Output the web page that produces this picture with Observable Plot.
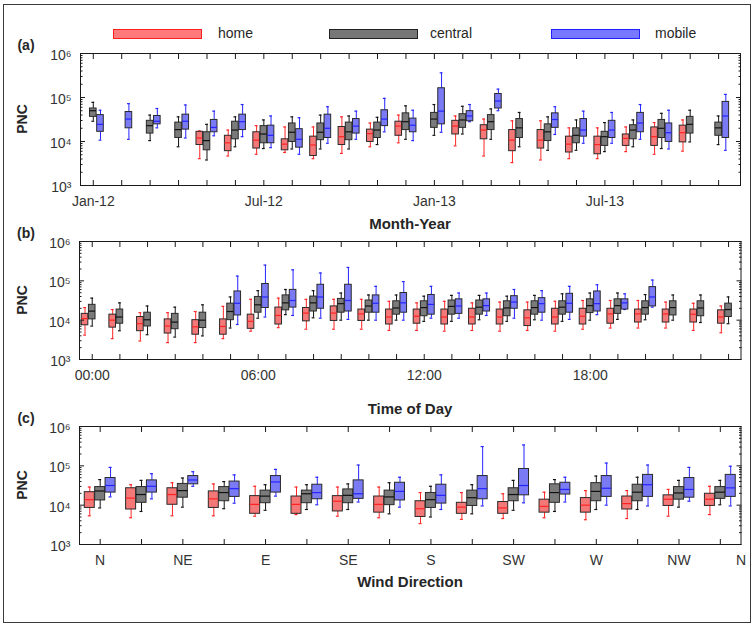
<!DOCTYPE html>
<html><head><meta charset="utf-8">
<script src="https://cdn.jsdelivr.net/npm/d3@7"></script>
<script src="https://cdn.jsdelivr.net/npm/@observablehq/plot@0.6"></script>
<style>
body{margin:0;background:#fff;font-family:"Liberation Sans",Arial,sans-serif;}
#fig{position:relative;width:754px;height:626px;overflow:hidden;background:#fff}
#border{position:absolute;left:3px;top:4px;width:748px;height:619px;border:1.5px solid #3a3a3a;box-sizing:border-box}
.t{position:absolute;transform:translate(-50%,-50%);white-space:nowrap;color:#262626}
.b{font-weight:bold}
.sw{position:absolute;height:10px;width:89px;box-sizing:border-box;border:1.3px solid}
.lt{position:absolute;font-size:14px;color:#262626;transform:translateY(-50%)}
.p{position:absolute;left:0}
</style></head><body>
<div id="fig">
<div id="border"></div>
</div>
<script>
// ---------- categories / tick labels ----------
const monthCats = ["Jan-12","Feb-12","Mar-12","Apr-12","May-12","Jun-12","Jul-12","Aug-12","Sep-12","Oct-12","Nov-12","Dec-12",
  "Jan-13","Feb-13","Mar-13","Apr-13","May-13","Jun-13","Jul-13","Aug-13","Sep-13","Oct-13","Nov-13"];
const monthTickLabels = ["Jan-12","Jul-12","Jan-13","Jul-13"];
const hourCats = ["00:00","01:00","02:00","03:00","04:00","05:00","06:00","07:00","08:00","09:00","10:00","11:00",
  "12:00","13:00","14:00","15:00","16:00","17:00","18:00","19:00","20:00","21:00","22:00","23:00"];
const hourTickLabels = ["00:00","06:00","12:00","18:00"];
const windCats = [0,22.5,45,67.5,90,112.5,135,157.5,180,202.5,225,247.5,270,292.5,315,337.5]; // degrees
const windTickLabels = ["N","NE","E","SE","S","SW","W","NW","N"];
const seriesNames = ["home","central","mobile"];

// ---------- values: log10(PNC) as [lower whisker, Q1, median, Q3, upper whisker] ----------
const monthHome = [null,null,null,null,
  [3.61,3.92,4.08,4.22,4.24],[3.67,3.78,3.97,4.13,4.26],[3.71,3.84,4.03,4.21,4.36],[3.75,3.80,3.94,4.05,4.33],
  [3.61,3.67,3.92,4.11,4.33],[3.73,3.92,4.11,4.33,4.56],[3.88,3.99,4.18,4.27,4.42],[3.97,4.13,4.35,4.45,4.60],
  null,[3.90,4.16,4.35,4.47,4.58],[3.67,4.05,4.26,4.37,4.51],[3.52,3.78,4.03,4.26,4.47],[3.58,3.84,4.03,4.26,4.47],
  [3.61,3.75,3.94,4.11,4.31],[3.61,3.71,3.93,4.11,4.31],[3.77,3.90,4.07,4.16,4.33],[3.71,3.90,4.11,4.32,4.43],
  [3.78,3.98,4.20,4.36,4.49],null];
const monthCentral = [[4.46,4.56,4.70,4.75,4.89],null,[4.02,4.18,4.36,4.47,4.60],[3.88,4.08,4.27,4.43,4.56],
  [3.58,3.80,4.02,4.21,4.39],[3.88,4.05,4.26,4.45,4.56],[3.84,3.96,4.17,4.35,4.49],[3.83,3.99,4.21,4.41,4.56],
  [3.83,4.03,4.21,4.41,4.60],[3.83,4.03,4.22,4.43,4.58],[3.93,4.08,4.26,4.43,4.55],[4.05,4.26,4.45,4.64,4.81],
  [4.14,4.31,4.51,4.65,4.84],[4.17,4.31,4.49,4.62,4.80],[4.05,4.26,4.45,4.60,4.74],[3.88,4.08,4.31,4.51,4.66],
  [3.80,4.01,4.22,4.39,4.56],[3.80,3.96,4.14,4.30,4.49],[3.77,3.90,4.11,4.22,4.43],[3.88,4.05,4.26,4.37,4.49],
  [3.84,4.08,4.30,4.49,4.64],[3.99,4.18,4.39,4.56,4.71],[3.93,4.13,4.31,4.43,4.58]];
const monthMobile = [[4.03,4.22,4.39,4.60,4.71],[4.05,4.30,4.51,4.67,4.86],[4.31,4.39,4.46,4.58,4.75],[4.08,4.27,4.46,4.61,4.83],
  [4.13,4.21,4.32,4.49,4.69],[4.11,4.26,4.45,4.61,4.84],[3.86,3.96,4.14,4.36,4.58],[3.71,3.86,4.05,4.28,4.54],
  [3.96,4.08,4.30,4.61,4.79],[4.05,4.18,4.35,4.51,4.69],[4.22,4.35,4.51,4.71,4.98],[4.02,4.21,4.37,4.52,4.71],
  [4.21,4.39,4.69,5.21,5.56],[4.45,4.46,4.58,4.69,4.84],[4.70,4.75,4.92,5.08,5.19],null,
  [4.16,4.31,4.50,4.64,4.79],[3.96,4.11,4.26,4.51,4.69],[3.96,4.08,4.26,4.47,4.66],[4.05,4.21,4.42,4.65,4.84],
  [3.83,3.99,4.20,4.41,4.71],null,[3.80,4.08,4.58,4.90,5.07]];

const hourHome = [[3.62,3.87,4.04,4.16,4.32],[3.53,3.81,4.00,4.14,4.27],[3.47,3.72,3.91,4.08,4.19],[3.43,3.66,3.85,4.02,4.19],
  [3.43,3.63,3.83,4.00,4.22],[3.53,3.63,3.84,4.02,4.35],[3.72,3.78,3.97,4.14,4.53],[3.81,3.89,4.12,4.32,4.56],
  [3.77,3.97,4.18,4.31,4.53],[3.77,3.98,4.18,4.35,4.53],[3.77,3.98,4.16,4.27,4.53],[3.74,3.89,4.08,4.27,4.48],
  [3.74,3.91,4.10,4.27,4.44],[3.72,3.89,4.08,4.27,4.48],[3.74,3.89,4.08,4.29,4.44],[3.72,3.89,4.08,4.27,4.46],
  [3.74,3.85,4.06,4.25,4.46],[3.72,3.89,4.08,4.29,4.48],[3.77,3.89,4.10,4.29,4.50],[3.80,3.91,4.16,4.29,4.50],
  [3.80,3.94,4.16,4.27,4.50],[3.80,3.94,4.16,4.27,4.46],[3.74,3.94,4.15,4.27,4.43],[3.68,3.91,4.08,4.25,4.36]];
const hourCentral = [[3.85,4.02,4.23,4.39,4.56],[3.73,3.91,4.08,4.27,4.44],[3.63,3.84,4.01,4.19,4.36],[3.57,3.77,3.95,4.16,4.33],
  [3.60,3.80,4.00,4.19,4.39],[3.80,4.00,4.22,4.42,4.59],[4.05,4.19,4.39,4.59,4.75],[4.14,4.25,4.44,4.63,4.78],
  [4.06,4.22,4.44,4.60,4.75],[4.00,4.19,4.42,4.54,4.69],[4.00,4.19,4.36,4.50,4.64],[4.00,4.14,4.31,4.48,4.64],
  [3.97,4.10,4.32,4.48,4.61],[3.97,4.14,4.35,4.50,4.63],[4.01,4.14,4.33,4.50,4.63],[3.97,4.10,4.31,4.48,4.61],
  [4.01,4.14,4.32,4.48,4.63],[3.97,4.14,4.33,4.48,4.67],[4.00,4.18,4.37,4.53,4.69],[4.02,4.16,4.37,4.53,4.69],
  [4.01,4.14,4.32,4.48,4.65],[4.00,4.12,4.32,4.48,4.64],[3.94,4.10,4.31,4.48,4.64],[3.91,4.08,4.27,4.42,4.59]];
const hourMobile = [null,null,null,null,null,
  [3.89,4.12,4.43,4.73,5.12],[4.08,4.31,4.59,4.92,5.40],[4.12,4.32,4.50,4.77,5.28],[4.05,4.29,4.59,4.90,5.20],
  [4.02,4.22,4.50,4.90,5.34],[4.00,4.19,4.43,4.63,4.86],[4.00,4.19,4.44,4.69,4.98],[4.05,4.14,4.40,4.64,4.86],
  [4.05,4.16,4.36,4.53,4.69],[4.12,4.22,4.37,4.53,4.69],[4.05,4.29,4.46,4.61,4.78],[4.00,4.19,4.42,4.56,4.75],
  [4.02,4.19,4.43,4.67,4.86],[4.14,4.22,4.42,4.73,4.90],[4.27,4.27,4.44,4.53,4.67],[4.33,4.35,4.59,4.84,5.02],
  null,null,null];

const windHome = [[3.73,3.93,4.14,4.33,4.46],[3.68,3.89,4.18,4.43,4.52],[3.73,4.01,4.27,4.43,4.57],[3.73,3.93,4.16,4.35,4.54],
  [3.72,3.78,4.02,4.23,4.48],[3.76,3.78,4.02,4.22,4.46],[3.72,3.84,4.10,4.23,4.46],[3.68,3.81,4.02,4.22,4.46],
  [3.53,3.70,3.91,4.10,4.32],[3.64,3.78,3.95,4.06,4.32],[3.66,3.78,3.93,4.08,4.29],[3.68,3.81,3.97,4.14,4.33],
  [3.63,3.81,4.00,4.18,4.37],[3.66,3.89,4.04,4.22,4.37],[3.72,3.98,4.15,4.25,4.40],[3.76,3.98,4.15,4.29,4.48]];
const windCentral = [[3.93,4.12,4.36,4.46,4.65],[3.84,4.06,4.27,4.46,4.63],[3.95,4.19,4.37,4.54,4.69],[3.91,4.10,4.32,4.46,4.60],
  [3.87,4.05,4.23,4.37,4.52],[3.89,4.05,4.29,4.37,4.52],[3.89,4.05,4.25,4.40,4.54],[3.78,4.00,4.21,4.37,4.57],
  [3.70,3.93,4.14,4.31,4.48],[3.78,3.98,4.19,4.37,4.52],[3.87,4.10,4.27,4.43,4.63],[3.84,4.06,4.32,4.53,4.65],
  [3.89,4.10,4.35,4.56,4.74],[3.89,4.10,4.33,4.52,4.71],[3.95,4.14,4.31,4.46,4.63],[4.01,4.16,4.33,4.46,4.63]];
const windMobile = [[4.21,4.32,4.50,4.69,4.96],[4.16,4.32,4.48,4.63,4.80],[4.48,4.53,4.64,4.74,4.85],[4.05,4.21,4.42,4.60,4.77],
  [4.23,4.32,4.59,4.74,4.91],[4.01,4.15,4.32,4.52,4.71],[4.08,4.16,4.29,4.63,5.02],[3.95,4.12,4.35,4.57,4.71],
  [3.89,4.04,4.25,4.52,4.77],[3.98,4.15,4.42,4.74,5.49],[4.06,4.25,4.50,4.92,5.53],[4.08,4.27,4.40,4.57,4.71],
  [4.00,4.21,4.43,4.74,5.07],[3.98,4.21,4.52,4.77,5.02],[4.10,4.19,4.40,4.69,4.96],[3.98,4.21,4.44,4.77,4.99]];

// ---------- styles ----------
const boxFill = {home:"#f47878", central:"#7b7b7b", mobile:"#7a7af4"};
const lineCol = {home:"#ff2424", central:"#111111", mobile:"#2424ff"};
const legendFill = {home:"#ff7b7b", central:"#777777", mobile:"#7878ff"};
const legendStroke = {home:"#ff2020", central:"#222222", mobile:"#2020ff"};
const seriesSide = {home:-1, central:0, mobile:1};

const supDigits = {"3":"³","4":"⁴","5":"⁵","6":"⁶"};
const supFmt = d => "10" + supDigits[String(Math.round(Math.log10(d)))];
const majorY = [1e3,1e4,1e5,1e6];
const minorY = [];
for (let e = 3; e < 6; e++) for (let m = 2; m <= 9; m++) minorY.push(m * Math.pow(10, e));

const fig = document.getElementById("fig");

function addText(txt, x, y, cls, size, rotate) {
  const d = document.createElement("div");
  d.className = "t " + (cls || "");
  d.style.left = x + "px"; d.style.top = y + "px";
  d.style.fontSize = size + "px";
  if (rotate) d.style.transform = "translate(-50%,-50%) rotate(-90deg)";
  d.textContent = txt;
  fig.appendChild(d);
}

function panel(cfg) {
  const W = 754;
  const plotW = W - cfg.ml - cfg.mr;
  const upx = (cfg.domain[1] - cfg.domain[0]) / plotW; // data units per pixel
  const off = cfg.offPx * upx, hw = cfg.hwPx * upx, cw = cfg.capPx * upx;
  const marks = [];
  seriesNames.forEach((s, si) => {
    const vals = cfg.values[si];
    const rows = [];
    vals.forEach((v, i) => {
      if (!v) return;
      rows.push({x: cfg.pos[i] + seriesSide[s] * off,
        wb: Math.pow(10, v[0]), q1: Math.pow(10, v[1]), med: Math.pow(10, v[2]),
        q3: Math.pow(10, v[3]), wt: Math.pow(10, v[4])});
    });
    marks.push(
      Plot.ruleX(rows, {x: "x", y1: "wb", y2: "wt", stroke: lineCol[s], strokeWidth: 1}),
      Plot.ruleY(rows, {y: "wt", x1: d => d.x - cw, x2: d => d.x + cw, stroke: lineCol[s], strokeWidth: 1.2}),
      Plot.ruleY(rows, {y: "wb", x1: d => d.x - cw, x2: d => d.x + cw, stroke: lineCol[s], strokeWidth: 1.2}),
      Plot.rect(rows, {x1: d => d.x - hw, x2: d => d.x + hw, y1: "q1", y2: "q3", fill: boxFill[s], stroke: "#2a2a2a", strokeWidth: 1}),
      Plot.ruleY(rows, {y: "med", x1: d => d.x - hw, x2: d => d.x + hw, stroke: lineCol[s], strokeWidth: 1.2})
    );
  });
  const noTxt = () => "";
  const axes = [
    Plot.axisY(majorY, {anchor: "left", tickSize: 0, tickPadding: 9, tickFormat: supFmt, fontSize: 14, fill: "#333", dy: 2, label: null}),
    Plot.axisY(majorY, {anchor: "left", tickSize: -5, tickFormat: noTxt, label: null}),
    Plot.axisY(minorY, {anchor: "left", tickSize: -2.5, tickFormat: noTxt, label: null}),
    Plot.axisY(majorY, {anchor: "right", tickSize: -5, tickFormat: noTxt, label: null}),
    Plot.axisY(minorY, {anchor: "right", tickSize: -2.5, tickFormat: noTxt, label: null}),
    Plot.axisX(cfg.tickPos, {anchor: "bottom", tickSize: -5, tickFormat: noTxt, label: null}),
    Plot.axisX(cfg.tickPos, {anchor: "top", tickSize: -5, tickFormat: noTxt, label: null}),
    Plot.axisX(cfg.labelPos, {anchor: "bottom", tickSize: 0, tickPadding: 11, fontSize: 14, fill: "#333",
      tickFormat: (d, i) => cfg.labelText[i], label: null}),
    Plot.frame({stroke: "#1a1a1a", strokeWidth: 1})
  ];
  const svg = Plot.plot({
    width: W, height: cfg.frameH + 13 + 25,
    marginLeft: cfg.ml, marginRight: cfg.mr, marginTop: 13, marginBottom: 25,
    style: {fontFamily: "Liberation Sans, Arial, sans-serif", fontSize: "14px", color: "#1a1a1a", background: "transparent"},
    x: {domain: cfg.domain, label: null},
    y: {type: "log", domain: [1e3, 1e6], label: null},
    marks: [...marks, ...axes]
  });
  svg.classList.add("p");
  svg.style.top = cfg.top + "px";
  svg.style.position = "absolute";
  fig.appendChild(svg);
}

// panel (a): month-year
panel({
  top: 40, frameH: 132, ml: 80, mr: 14, domain: [-0.45, 22.77],
  pos: monthCats.map((_, i) => i),
  values: [monthHome, monthCentral, monthMobile],
  offPx: 7.2, hwPx: 3.3, capPx: 1.4,
  tickPos: monthCats.map((_, i) => i),
  labelPos: monthTickLabels.map(l => monthCats.indexOf(l)), labelText: monthTickLabels
});
// panel (b): time of day
panel({
  top: 228, frameH: 118, ml: 79, mr: 13.5, domain: [-0.46, 23.45],
  pos: hourCats.map((_, i) => i),
  values: [hourHome, hourCentral, hourMobile],
  offPx: 7.2, hwPx: 3.3, capPx: 1.4,
  tickPos: hourCats.map((_, i) => i),
  labelPos: hourTickLabels.map(l => hourCats.indexOf(l)), labelText: hourTickLabels
});
// panel (c): wind direction
panel({
  top: 413, frameH: 118, ml: 79, mr: 13.5, domain: [-11.25, 348.75],
  pos: windCats,
  values: [windHome, windCentral, windMobile],
  offPx: 10.4, hwPx: 5, capPx: 1.5,
  tickPos: windCats,
  labelPos: [0, 45, 90, 135, 180, 225, 270, 315, 348.75], labelText: windTickLabels
});

// panel letters, y titles, x titles
addText("(a)", 26, 45, "b", 14);
addText("(b)", 26, 233, "b", 14);
addText("(c)", 26, 418, "b", 14);
addText("PNC", 22, 119, "b", 14, true);
addText("PNC", 22, 300, "b", 14, true);
addText("PNC", 22, 485, "b", 14, true);
addText("Month-Year", 410, 223, "b", 15);
addText("Time of Day", 410, 408, "b", 15);
addText("Wind Direction", 410, 581, "b", 15);

// legend
const legX = {home: [113, 218], central: [329, 430], mobile: [551, 655]};
seriesNames.forEach(s => {
  const sw = document.createElement("div");
  sw.className = "sw";
  sw.style.left = legX[s][0] + "px"; sw.style.top = "29px";
  sw.style.background = legendFill[s]; sw.style.borderColor = legendStroke[s];
  fig.appendChild(sw);
  const t = document.createElement("div");
  t.className = "lt";
  t.style.left = legX[s][1] + "px"; t.style.top = "33px";
  t.textContent = s;
  fig.appendChild(t);
});
</script>
</body></html>
